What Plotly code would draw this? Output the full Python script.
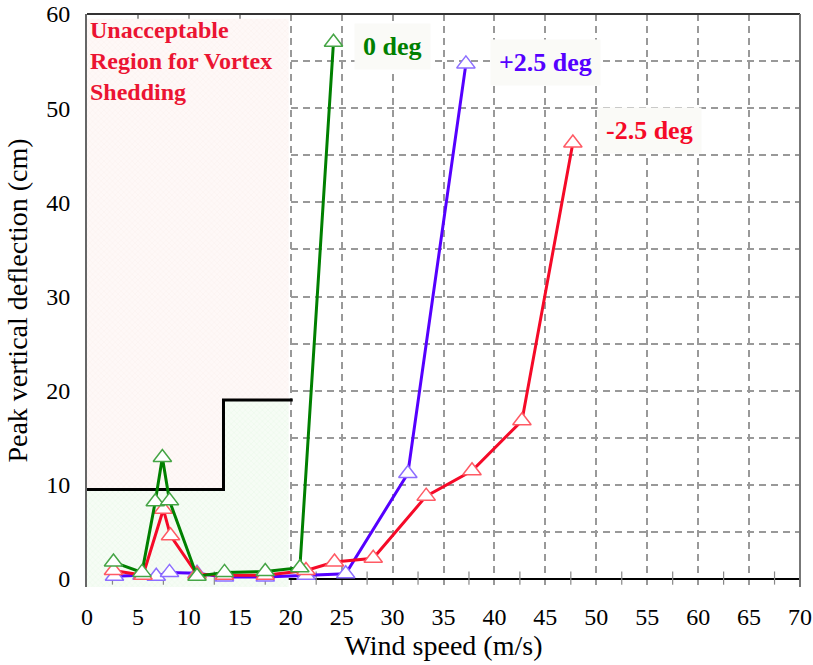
import numpy as np
import plotly.graph_objects as go

# Wind speed (m/s) and peak vertical deflection (cm) for each angle of attack
speed_0 = [2.6, 5.4, 6.7, 7.4, 8.1, 10.8, 13.5, 17.5, 20.9, 24.2]
defl_0 = [1.8, 0.7, 8.2, 12.9, 8.3, 0.3, 0.7, 0.8, 1.2, 57.0]

speed_p25 = [2.7, 5.4, 6.8, 8.1, 10.8, 13.5, 17.5, 21.5, 25.4, 31.5, 37.2]
defl_p25 = [0.3, 0.4, 0.3, 0.7, 0.6, 0.2, 0.2, 0.4, 0.55, 11.2, 54.7]

speed_m25 = [2.6, 5.5, 7.5, 8.2, 10.8, 13.5, 17.5, 21.5, 24.3, 28.1, 33.3, 37.8, 42.7, 47.7]
defl_m25 = [0.9, 0.4, 7.4, 4.6, 0.5, 0.4, 0.4, 0.9, 1.8, 2.2, 8.8, 11.5, 16.8, 46.3]

# Vortex-shedding acceptance limit (step line)
limit_speed = [0, 13.4, 13.4, 20.2]
limit_defl = [9.5, 9.5, 19.0, 19.0]

# Shaded region extents
region_left = -0.5
region_right = 19.8
region_top = 59.5
region_bottom = -0.85

x_ticks = list(range(0, 75, 5))
y_ticks = list(range(0, 65, 5))
y_ticktext = [str(v) if v % 10 == 0 else "" for v in y_ticks]

FONT = "Liberation Serif"
GREEN = "rgb(0,128,0)"
BLUE = "rgb(85,0,255)"
RED = "rgb(245,10,40)"

fig = go.Figure()

# Unacceptable region (above the limit)
fig.add_trace(go.Scatter(
    x=[region_left, region_right, region_right, limit_speed[2], limit_speed[1], region_left],
    y=[region_top, region_top, limit_defl[3], limit_defl[2], limit_defl[1], limit_defl[0]],
    fill="toself", mode="none", hoverinfo="skip", showlegend=False,
    fillcolor="rgb(253,244,242)",
    fillpattern=dict(shape="x", size=4, solidity=0.12,
                     fgcolor="rgb(249,230,227)", bgcolor="rgb(254,248,247)",
                     fillmode="replace"),
))
# Acceptable region (below the limit)
fig.add_trace(go.Scatter(
    x=[region_left, region_right, region_right, limit_speed[2], limit_speed[1], region_left],
    y=[region_bottom, region_bottom, limit_defl[3], limit_defl[2], limit_defl[1], limit_defl[0]],
    fill="toself", mode="none", hoverinfo="skip", showlegend=False,
    fillcolor="rgb(242,251,240)",
    fillpattern=dict(shape="x", size=4, solidity=0.12,
                     fgcolor="rgb(222,244,218)", bgcolor="rgb(246,252,245)",
                     fillmode="replace"),
))

# Minor tick marks crossing the zero line
minor_x = np.arange(2.5, 70, 5)
tick_x, tick_y = [], []
for mx in minor_x:
    tick_x += [mx, mx, None]
    tick_y += [0.8, -0.6, None]
fig.add_trace(go.Scatter(x=tick_x, y=tick_y, mode="lines", hoverinfo="skip",
                         line=dict(color="#888", width=1.2), showlegend=False))

# Limit step line
fig.add_trace(go.Scatter(x=limit_speed, y=limit_defl, mode="lines", showlegend=False,
                         line=dict(color="black", width=3)))


def series(x, y, color, edge):
    return go.Scatter(
        x=x, y=y, mode="lines+markers", showlegend=False, cliponaxis=False,
        line=dict(color=color, width=3),
        marker=dict(symbol="triangle-up", size=16, color="white",
                    line=dict(color=edge, width=1.5)),
    )


fig.add_trace(series(speed_p25, defl_p25, BLUE, "rgb(140,110,255)"))
fig.add_trace(series(speed_m25, defl_m25, RED, "rgb(255,90,100)"))
fig.add_trace(series(speed_0, defl_0, GREEN, "rgb(70,165,70)"))

# Series labels
labels = [
    ("0 deg", 30.0, 56.5, GREEN),
    ("+2.5 deg", 45.05, 54.8, BLUE),
    ("-2.5 deg", 55.25, 47.6, RED),
]
for text, lx, ly, col in labels:
    fig.add_annotation(x=lx, y=ly, text=text, showarrow=False,
                       font=dict(family=FONT, size=26, color=col, weight="bold"),
                       bgcolor="#fafaf7", borderpad=8)

fig.add_annotation(x=0.05, y=59.9, xanchor="left", yanchor="top", align="left",
                   text="Unacceptable<br>Region for Vortex<br>Shedding",
                   showarrow=False,
                   font=dict(family=FONT, size=24, color="rgb(235,20,50)", weight="bold"))

# Plot frame: top and right borders
fig.add_shape(type="line", xref="paper", yref="paper", x0=0, x1=1, y0=1, y1=1,
              line=dict(color="#333", width=2))
fig.add_shape(type="line", xref="paper", yref="paper", x0=1, x1=1, y0=0, y1=1,
              line=dict(color="#777", width=2))

fig.update_layout(
    width=813, height=665,
    margin=dict(l=87, r=13, t=14, b=78),
    paper_bgcolor="white", plot_bgcolor="white",
    font=dict(family=FONT, color="black"),
    xaxis=dict(
        range=[0, 70], tickvals=x_ticks, ticks="", showline=False, automargin=False,
        showgrid=True, gridcolor="#999", griddash="7px,5px", gridwidth=1.5,
        zeroline=False, tickfont=dict(family=FONT, size=24), ticklabelstandoff=13,
        title=dict(text="Wind speed (m/s)", font=dict(family=FONT, size=28), standoff=3),
    ),
    yaxis=dict(
        range=[region_bottom, 60], tickvals=y_ticks, ticktext=y_ticktext, ticks="",
        automargin=False,
        showline=True, linecolor="#666", linewidth=2,
        showgrid=True, gridcolor="#999", griddash="7px,5px", gridwidth=1.5,
        zeroline=True, zerolinecolor="black", zerolinewidth=2,
        tickfont=dict(family=FONT, size=24), ticklabelstandoff=10,
        title=dict(text="Peak vertical deflection (cm)", font=dict(family=FONT, size=28),
                   standoff=10),
    ),
)

fig.write_html("out.html")
